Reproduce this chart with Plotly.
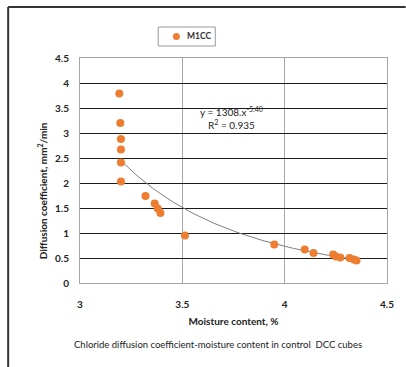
import numpy as np
import plotly.graph_objects as go

# Moisture content (%) and chloride diffusion coefficient (mm²/min) for M1CC
moisture = [3.192, 3.197, 3.20, 3.20, 3.20, 3.20, 3.32, 3.365, 3.38, 3.393, 3.513,
            3.949, 4.098, 4.141, 4.237, 4.25, 4.272, 4.317, 4.338, 4.351]
diffusion = [3.79, 3.20, 2.88, 2.67, 2.41, 2.03, 1.74, 1.59, 1.49, 1.40, 0.95,
             0.77, 0.67, 0.60, 0.57, 0.53, 0.51, 0.50, 0.47, 0.45]

# Power-law trend y = a·x^b
coef_a = 1308
coef_b = -5.40
r_squared = 0.935

x_ticks = [3, 3.5, 4, 4.5]
y_ticks = [0, 0.5, 1, 1.5, 2, 2.5, 3, 3.5, 4, 4.5]

SERIES = "M1CC"
ORANGE = "#ED7D31"
FONT = "Lato"
W, H = 406, 367
ML, MR, MT, MB = 80, 14, 58, 84

xs = np.linspace(min(moisture), max(moisture), 120)
ys = coef_a * xs ** coef_b

fig = go.Figure()
fig.add_trace(go.Scatter(
    x=xs, y=ys, mode="lines", showlegend=False, hoverinfo="skip",
    line=dict(color="#7f7f7f", width=1),
))
fig.add_trace(go.Scatter(
    x=moisture, y=diffusion, mode="markers", name=SERIES, showlegend=False,
    marker=dict(color=ORANGE, size=8, line=dict(width=0)),
))

fig.add_annotation(
    x=3.74, y=3.3, xref="x", yref="y", showarrow=False,
    text=f"y = {coef_a}.x<sup>{coef_b:.2f}</sup><br>R<sup>2</sup> = {r_squared}",
    font=dict(family=FONT, size=10, color="#222"), align="center",
)

pw = W - ML - MR
ph = H - MT - MB
def px_x(p):
    return (p - ML) / pw
def px_y(p):
    return (H - MB - p) / ph

# Compact legend box
fig.add_shape(type="rect", xref="paper", yref="paper",
              x0=px_x(159.5), x1=px_x(217.5), y0=px_y(27), y1=px_y(46),
              line=dict(color="#9a9a9a", width=1), fillcolor="white")
fig.add_shape(type="circle", xref="paper", yref="paper",
              xsizemode="pixel", ysizemode="pixel",
              xanchor=px_x(178), yanchor=px_y(36.5),
              x0=-3.5, x1=3.5, y0=-3.5, y1=3.5,
              line=dict(width=0), fillcolor=ORANGE)
fig.add_annotation(
    x=px_x(187), y=px_y(36.5), xref="paper", yref="paper", showarrow=False,
    xanchor="left", yanchor="middle", text=f"<b>{SERIES}</b>",
    font=dict(family=FONT, size=8.5, color="#333"),
)

# Y-axis title
fig.add_annotation(
    x=px_x(33), y=px_y(191), xref="paper", yref="paper", showarrow=False,
    text="<b>Diffusion coefficient, mm<sup>2</sup>/min</b>", textangle=-90,
    font=dict(family=FONT, size=10, color="#222"),
)
# Caption
fig.add_annotation(
    x=px_x(220), y=px_y(352), xref="paper", yref="paper", showarrow=False,
    text="Chloride diffusion coefficient-moisture content in control  DCC cubes",
    font=dict(family=FONT, size=9.5, color="#222"),
)

# Outer frame (left and top edges)
fig.add_shape(type="line", xref="paper", yref="paper",
              x0=px_x(7), x1=px_x(7), y0=px_y(7), y1=px_y(H + 5),
              line=dict(color="#333", width=2))
fig.add_shape(type="line", xref="paper", yref="paper",
              x0=px_x(7), x1=px_x(W + 5), y0=px_y(7), y1=px_y(7),
              line=dict(color="#333", width=2))

fig.update_layout(
    width=W, height=H,
    margin=dict(l=ML, r=MR, t=MT, b=MB),
    paper_bgcolor="white", plot_bgcolor="white",
    font=dict(family=FONT, size=10, color="#222"),
    showlegend=False,
    xaxis=dict(
        range=[3, 4.5], tickvals=x_ticks, ticktext=[f"<b>{v:g}</b>" for v in x_ticks],
        showgrid=True, gridcolor="#a6a6a6", gridwidth=1,
        showline=True, linecolor="#a6a6a6", linewidth=1, mirror=True,
        ticks="", ticklabelstandoff=12, zeroline=False,
        title=dict(text="<b>Moisture content, %</b>", font=dict(size=10), standoff=8),
    ),
    yaxis=dict(
        range=[0, 4.5], tickvals=y_ticks, ticktext=[f"<b>{v:g}</b>" for v in y_ticks],
        showgrid=True, gridcolor="#1a1a1a", gridwidth=1,
        showline=True, linecolor="#a6a6a6", linewidth=1, mirror=True,
        ticks="", ticklabelstandoff=8, zeroline=False,
    ),
)

fig.write_html("out.html")
